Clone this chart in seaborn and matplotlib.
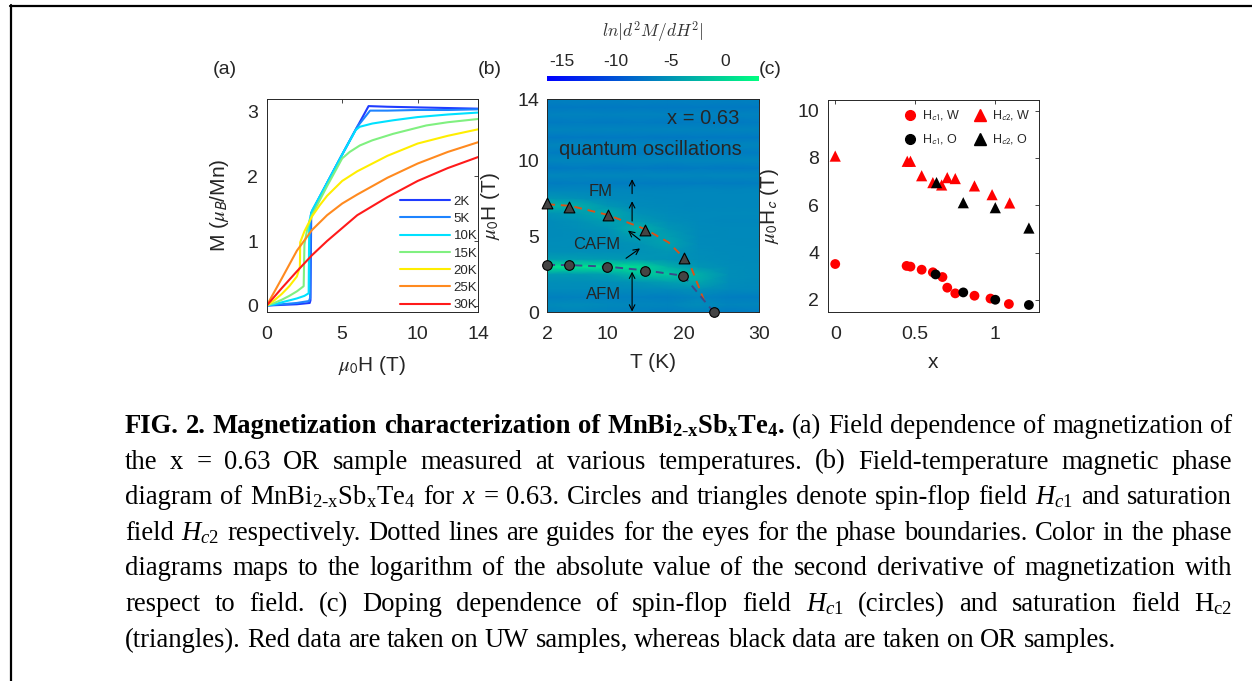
import numpy as np
import pandas as pd
import matplotlib
matplotlib.use('Agg')
import matplotlib.pyplot as plt
import seaborn as sns
from matplotlib.lines import Line2D
from matplotlib.transforms import IdentityTransform
from matplotlib.font_manager import FontProperties

# ---- panel (a): M(H) at several temperatures ----
temps = ['2K', '5K', '10K', '15K', '20K', '25K', '30K']
colors_a = ['#1f3cff', '#1e84ff', '#00e1ff', '#80f080', '#ffee00', '#ff8a1f', '#ff1a1a']

H_2K = [0, 1, 2, 2.85, 2.9, 2.95, 4, 5, 6, 6.75, 8, 10, 12, 14]
M_2K = [0, 0.01, 0.02, 0.04, 0.08, 1.43, 1.9, 2.34, 2.77, 3.09, 3.08, 3.07, 3.06, 3.05]
H_5K = [0, 1, 2, 2.8, 2.88, 2.92, 3, 4, 5, 6, 6.85, 8, 10, 12, 14]
M_5K = [0, 0.02, 0.04, 0.07, 0.12, 1.4, 1.46, 1.9, 2.34, 2.77, 3.02, 3.02, 3.03, 3.03, 3.04]
H_10K = [0, 0.5, 1, 1.5, 2, 2.5, 2.78, 2.82, 3, 4, 5, 5.9, 6.17, 7, 8.37, 10, 12, 14]
M_10K = [0, 0.02, 0.05, 0.08, 0.11, 0.15, 0.19, 1.3, 1.47, 1.9, 2.34, 2.72, 2.77, 2.82, 2.87, 2.92, 2.96, 2.99]
H_15K = [0, 0.5, 1, 1.5, 2, 2.45, 2.5, 2.7, 3.0, 4, 5, 5.5, 6.17, 7, 8.37, 10.57, 12, 14]
M_15K = [0, 0.04, 0.09, 0.15, 0.22, 0.3, 0.95, 1.2, 1.4, 1.85, 2.28, 2.38, 2.48, 2.56, 2.66, 2.79, 2.84, 2.89]
H_20K = [0, 0.5, 1, 1.5, 2, 2.2, 2.22, 2.5, 3.0, 3.5, 4, 5, 6, 8, 10, 12, 14]
M_20K = [0, 0.08, 0.18, 0.3, 0.45, 0.6, 0.98, 1.15, 1.38, 1.55, 1.7, 1.93, 2.08, 2.32, 2.51, 2.63, 2.73]
H_25K = [0, 1, 2, 3, 4, 5, 6, 8, 10, 12, 14]
M_25K = [0, 0.42, 0.85, 1.17, 1.4, 1.58, 1.72, 1.98, 2.2, 2.38, 2.53]
H_30K = [0, 1, 2, 3, 4, 5, 6, 8, 10, 12, 14]
M_30K = [0, 0.27, 0.53, 0.78, 1.0, 1.2, 1.4, 1.68, 1.93, 2.13, 2.3]

# ---- panel (b): phase diagram ----
T_hc2 = [2, 4.9, 10, 14.95, 20.05]
H_hc2 = [7.16, 6.94, 6.4, 5.41, 3.59]
T_hc1 = [2, 4.9, 9.93, 14.9, 19.96, 24.0]
H_hc1 = [3.11, 3.11, 3.0, 2.74, 2.39, 0.0]
T_guide2 = [2, 5, 10, 15, 18, 20.8, 23.0]
H_guide2 = [7.1, 7.0, 6.4, 5.45, 4.6, 3.2, 0.4]
T_guide1 = [2, 5, 10, 15, 20, 24]
H_guide1 = [3.12, 3.1, 3.0, 2.75, 2.4, 0.0]

# ln|d2M/dH2| map read on a coarse grid
map_T = [2, 6, 10, 14, 18, 22, 26, 30]
map_H = [0, 0.5, 1, 1.5, 2, 2.5, 3, 3.5, 4, 4.5, 5, 5.5, 6, 6.5, 7, 7.5, 8,
         8.5, 9, 9.5, 10, 10.5, 11, 11.5, 12, 12.5, 13, 13.5, 14]
map_Z = [
    [-6.4, -6.2, -6.4, -6.6, -6.8, -6.6, -7.0, -6.8],
    [-5.8, -5.6, -5.9, -6.0, -6.2, -5.6, -6.2, -6.0],
    [-6.6, -6.4, -6.5, -6.6, -6.7, -6.2, -6.8, -6.8],
    [-5.7, -5.7, -5.7, -5.8, -5.7, -5.3, -5.9, -5.9],
    [-5.5, -5.5, -5.4, -5.0, -4.2, -3.6, -5.6, -5.8],
    [-4.6, -4.6, -4.2, -1.8, -1.0, -3.0, -5.5, -5.7],
    [1.0, 1.1, 0.9, 0.3, -3.0, -5.0, -5.6, -5.7],
    [-4.4, -4.4, -4.6, -4.9, -5.2, -5.5, -5.7, -5.8],
    [-5.5, -5.5, -5.5, -5.3, -4.9, -5.6, -5.8, -5.8],
    [-5.6, -5.6, -5.5, -5.1, -3.9, -5.7, -5.8, -5.9],
    [-5.7, -5.6, -5.4, -4.2, -4.3, -5.8, -5.9, -5.9],
    [-5.7, -5.5, -5.1, -2.8, -5.0, -5.8, -5.9, -5.9],
    [-5.7, -5.3, -4.3, -4.5, -5.5, -5.9, -6.0, -6.0],
    [-5.1, -4.5, -3.2, -5.3, -5.7, -5.9, -5.9, -5.9],
    [-2.6, -3.0, -4.9, -5.7, -5.9, -6.0, -6.0, -6.0],
    [-4.9, -5.3, -5.8, -5.9, -6.0, -6.0, -6.0, -6.0],
    [-6.0, -6.0, -6.0, -6.1, -6.1, -6.0, -6.1, -6.0],
    [-6.9, -6.7, -6.9, -6.8, -6.9, -6.8, -6.9, -6.7],
    [-6.0, -6.1, -6.0, -6.1, -6.0, -6.1, -6.0, -6.1],
    [-7.1, -6.9, -7.0, -6.9, -7.1, -6.9, -7.0, -6.9],
    [-6.1, -6.0, -6.1, -6.0, -6.1, -6.0, -6.1, -6.0],
    [-6.8, -6.9, -6.8, -6.9, -6.8, -6.9, -6.8, -6.9],
    [-6.2, -6.1, -6.2, -6.1, -6.2, -6.1, -6.2, -6.1],
    [-7.2, -7.0, -7.1, -7.0, -7.2, -7.0, -7.1, -7.0],
    [-6.2, -6.3, -6.2, -6.3, -6.2, -6.3, -6.2, -6.3],
    [-7.0, -6.9, -7.0, -6.9, -7.0, -6.9, -7.0, -6.9],
    [-6.4, -6.3, -6.4, -6.3, -6.4, -6.3, -6.4, -6.3],
    [-7.1, -7.0, -7.1, -7.0, -7.1, -7.0, -7.1, -7.0],
    [-6.5, -6.4, -6.5, -6.4, -6.5, -6.4, -6.5, -6.4],
]

# ---- panel (c): doping dependence ----
x_c1_w = [0, 0.446, 0.47, 0.54, 0.61, 0.67, 0.70, 0.75, 0.87, 0.97, 1.085]
hc1_w = [3.52, 3.44, 3.41, 3.28, 3.17, 2.97, 2.52, 2.28, 2.18, 2.06, 1.83]
x_c2_w = [0, 0.45, 0.47, 0.54, 0.61, 0.665, 0.70, 0.75, 0.87, 0.98, 1.09]
hc2_w = [8.08, 7.86, 7.86, 7.25, 6.96, 6.86, 7.17, 7.13, 6.82, 6.45, 6.1]
x_c1_o = [0.627, 0.80, 1.0, 1.21]
hc1_o = [3.08, 2.32, 2.01, 1.79]
x_c2_o = [0.633, 0.80, 1.0, 1.21]
hc2_o = [6.96, 6.11, 5.9, 5.04]

sns.set_style("white")
plt.rcParams['font.family'] = ['Liberation Sans', 'DejaVu Sans']
plt.rcParams['axes.unicode_minus'] = False
plt.rcParams['mathtext.fontset'] = 'custom'
plt.rcParams['mathtext.rm'] = 'Liberation Serif'
plt.rcParams['mathtext.it'] = 'Liberation Serif:italic'
plt.rcParams['mathtext.bf'] = 'Liberation Serif:bold'

W, Hpx = 1252, 681
fig = plt.figure(figsize=(W / 100, Hpx / 100), dpi=100)
ax_a = fig.add_axes([266.7 / W, 1 - 312 / Hpx, 211.3 / W, 213 / Hpx])
ax_b = fig.add_axes([547.3 / W, 1 - 312.3 / Hpx, 212 / W, 213 / Hpx])
ax_c = fig.add_axes([827.7 / W, 1 - 312.3 / Hpx, 211.6 / W, 212.3 / Hpx])
cax = fig.add_axes([547.3 / W, 1 - 81 / Hpx, 212 / W, 5 / Hpx])

dark = '#262626'
tick_fs = 14
lab_fs = 15


def style(ax):
    for s in ax.spines.values():
        s.set_color(dark)
        s.set_linewidth(0.7)
    ax.tick_params(direction='in', top=True, right=True, length=3, width=0.6,
                   colors=dark, labelsize=tick_fs)
    ax.tick_params(axis='x', pad=10)
    ax.tick_params(axis='y', pad=6)


# (a)
rows = []
for t, hh, mm in zip(temps, [H_2K, H_5K, H_10K, H_15K, H_20K, H_25K, H_30K],
                     [M_2K, M_5K, M_10K, M_15K, M_20K, M_25K, M_30K]):
    for h, m in zip(hh, mm):
        rows.append({'T': t, 'H': h, 'M': m})
df_a = pd.DataFrame(rows)
sns.lineplot(data=df_a, x='H', y='M', hue='T', hue_order=temps, palette=colors_a,
             sort=False, estimator=None, units='T', legend=False, lw=1.5, ax=ax_a)
ax_a.set_xlim(0, 14)
ax_a.set_ylim(-0.1, 3.2)
ax_a.set_xticks([0, 5, 10, 14])
ax_a.set_yticks([0, 1, 2, 3])
style(ax_a)
ax_a.set_xlabel(r'$\mu_\mathsf{0}$H (T)', fontsize=lab_fs, math_fontfamily='stix', color=dark,
                labelpad=8)
ax_a.set_ylabel(r'M ($\mu_\mathsf{B}$/Mn)', fontsize=lab_fs, math_fontfamily='stix', color=dark,
                labelpad=12)
handles = [Line2D([], [], color=c, lw=1.5) for c in colors_a]
ax_a.legend(handles, temps, loc='lower right', bbox_to_anchor=(1.0, 0.0), frameon=False,
            fontsize=9.5, handlelength=3.8, handletextpad=0.25, labelspacing=0.38,
            borderaxespad=0, borderpad=0.05)

# (b)
mesh = ax_b.pcolormesh(map_T, map_H, np.array(map_Z), shading='gouraud', cmap='winter',
                       vmin=-16.3, vmax=3.1, rasterized=True)
ax_b.plot(T_guide2, H_guide2, ls=(0, (4, 3)), color='#d95319', lw=1.4)
ax_b.plot(T_guide1, H_guide1, ls=(0, (4, 3)), color='#3b4a8c', lw=1.4)
sns.scatterplot(x=T_hc2, y=H_hc2, marker='^', color='#444444', edgecolor='black', s=60,
                linewidth=0.8, zorder=5, clip_on=False, ax=ax_b)
sns.scatterplot(x=T_hc1, y=H_hc1, marker='o', color='#444444', edgecolor='black', s=48,
                linewidth=0.8, zorder=5, clip_on=False, ax=ax_b)
ax_b.set_xlim(2, 30)
ax_b.set_ylim(0, 14)
ax_b.set_xticks([2, 10, 20, 30])
ax_b.set_yticks([0, 5, 10, 14])
style(ax_b)
ax_b.set_xlabel('T (K)', fontsize=lab_fs, color=dark, labelpad=7)
ax_b.set_ylabel(r'$\mu_\mathsf{0}$H (T)', fontsize=lab_fs, math_fontfamily='stix', color=dark,
                labelpad=11)
ax_b.text(22.6, 12.75, 'x = 0.63', ha='center', va='center', fontsize=14.5)
ax_b.text(15.56, 10.67, 'quantum oscillations', ha='center', va='center', fontsize=14.5)
ax_b.text(9.09, 7.93, 'FM', ha='center', va='center', fontsize=12)
ax_b.text(8.5, 4.43, 'CAFM', ha='center', va='center', fontsize=12)
ax_b.text(9.4, 1.14, 'AFM', ha='center', va='center', fontsize=12)
ap = dict(arrowstyle='->', color='black', lw=0.8, shrinkA=0, shrinkB=0)
ax_b.annotate('', xy=(13.2, 8.75), xytext=(13.2, 7.8), arrowprops=ap)
ax_b.annotate('', xy=(13.2, 7.3), xytext=(13.2, 6.0), arrowprops=ap)
ax_b.annotate('', xy=(12.66, 5.37), xytext=(14.24, 4.75), arrowprops=ap)
ax_b.annotate('', xy=(14.24, 4.2), xytext=(12.4, 3.55), arrowprops=ap)
ax_b.annotate('', xy=(13.2, 0.05), xytext=(13.2, 2.67),
              arrowprops=dict(arrowstyle='<->', color='black', lw=0.8, shrinkA=0, shrinkB=0))

cbar = fig.colorbar(mesh, cax=cax, orientation='horizontal', ticklocation='top')
cbar.outline.set_visible(False)
cbar.set_ticks([-15, -10, -5, 0])
cax.tick_params(length=0, labelsize=12.5, pad=5, colors=dark)
fig.text(653 / W, 1 - 32 / Hpx, r'$ln|d^2M/dH^2|$', ha='center', va='center', fontsize=12.5,
         math_fontfamily='cm', color='#333333')

# (c)
sns.scatterplot(x=x_c1_w, y=hc1_w, marker='o', color='red', edgecolor='none', s=50, ax=ax_c)
sns.scatterplot(x=x_c2_w, y=hc2_w, marker='^', color='red', edgecolor='none', s=65, ax=ax_c)
sns.scatterplot(x=x_c1_o, y=hc1_o, marker='o', color='black', edgecolor='none', s=50, ax=ax_c)
sns.scatterplot(x=x_c2_o, y=hc2_o, marker='^', color='black', edgecolor='none', s=65, ax=ax_c)
ax_c.set_xlim(-0.047, 1.275)
ax_c.set_ylim(1.48, 10.45)
ax_c.set_xticks([0, 0.5, 1])
ax_c.set_xticklabels(['0', '0.5', '1'])
ax_c.set_yticks([2, 4, 6, 8, 10])
style(ax_c)
ax_c.set_xlabel('x', fontsize=lab_fs, color=dark, labelpad=7)
ax_c.set_ylabel(r'$\mu_\mathsf{0}$H$_\mathsf{c}$ (T)', fontsize=lab_fs, math_fontfamily='stix',
                color=dark, labelpad=12)
leg_h = [Line2D([], [], ls='none', marker='o', color='red', ms=7),
         Line2D([], [], ls='none', marker='o', color='black', ms=7),
         Line2D([], [], ls='none', marker='^', color='red', ms=8),
         Line2D([], [], ls='none', marker='^', color='black', ms=8)]
leg_l = [r'H$_\mathsf{c1}$, W', r'H$_\mathsf{c1}$, O', r'H$_\mathsf{c2}$, W', r'H$_\mathsf{c2}$, O']
ax_c.legend(leg_h, leg_l, ncol=2, loc='upper right', frameon=False,
            prop=FontProperties(family='Liberation Sans', size=9, math_fontfamily='stixsans'),
            handletextpad=0.5, columnspacing=1.0, labelspacing=0.75, borderaxespad=0.3,
            handlelength=1.0)

# panel letters
fig.text(213 / W, 1 - 70 / Hpx, '(a)', fontsize=14, va='center', color=dark)
fig.text(478 / W, 1 - 70 / Hpx, '(b)', fontsize=14, va='center', color=dark)
fig.text(759 / W, 1 - 70 / Hpx, '(c)', fontsize=14, va='center', color=dark)

# frame
fig.add_artist(Line2D([10 / W, 1], [1 - 5.5 / Hpx] * 2, color='black', lw=1.6,
                      transform=fig.transFigure))
fig.add_artist(Line2D([11 / W] * 2, [0, 1 - 5 / Hpx], color='black', lw=1.6,
                      transform=fig.transFigure))

# caption, justified
caption_lines = [
    r"FIG. 2. Magnetization characterization of MnBi$_{\mathbf{2}\text{-}\mathbf{x}}$Sb$_\mathbf{x}$Te$_\mathbf{4}$. (a) Field dependence of magnetization of",
    r"the x = 0.63 OR sample measured at various temperatures. (b) Field-temperature magnetic phase",
    r"diagram of MnBi$_{\mathrm{2}\text{-}\mathrm{x}}$Sb$_\mathrm{x}$Te$_\mathrm{4}$ for $x$ = 0.63. Circles and triangles denote spin-flop field $\mathit{H}_{\mathit{c1}}$ and saturation",
    r"field $\mathit{H}_{\mathit{c2}}$ respectively. Dotted lines are guides for the eyes for the phase boundaries. Color in the phase",
    r"diagrams maps to the logarithm of the absolute value of the second derivative of magnetization with",
    r"respect to field. (c) Doping dependence of spin-flop field $\mathit{H}_{\mathit{c1}}$ (circles) and saturation field H$_\mathrm{c2}$",
    r"(triangles). Red data are taken on UW samples, whereas black data are taken on OR samples.",
]
n_bold = 6
cap_fs = 19.2
cap_left, cap_right = 125, 1232
y0, dy = 433, 35.6
renderer = fig.canvas.get_renderer()
for i, line in enumerate(caption_lines):
    words = line.split(' ')
    texts = []
    for j, w in enumerate(words):
        bold = (i == 0 and j < n_bold)
        t = fig.text(0, 0, w, transform=IdentityTransform(), fontsize=cap_fs,
                     family='Liberation Serif', weight='bold' if bold else 'normal',
                     math_fontfamily='custom', va='baseline', color='black')
        texts.append(t)
    widths = [t.get_window_extent(renderer).width for t in texts]
    if i < len(caption_lines) - 1:
        gap = (cap_right - cap_left - sum(widths)) / (len(words) - 1)
    else:
        gap = cap_fs * 100 / 72 * 0.25
    x = cap_left
    for t, w in zip(texts, widths):
        t.set_position((x, Hpx - (y0 + i * dy)))
        x += w + gap

fig.savefig('out.png', dpi=100)
